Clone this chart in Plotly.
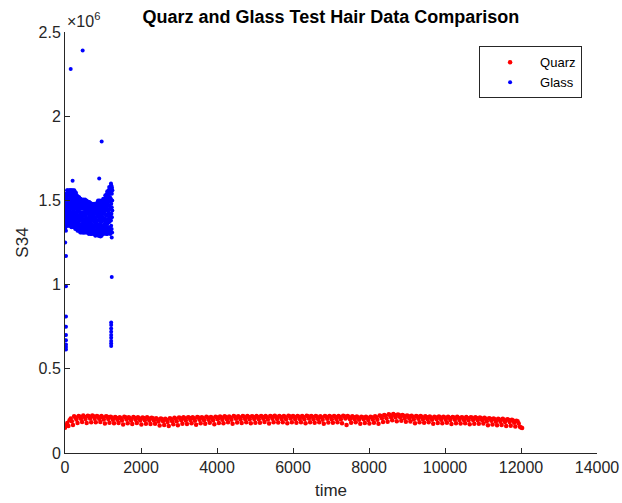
import numpy as np
import plotly.graph_objects as go

# ---- Quarz hair measurements: S34 (in thousands), sampled every 30 time units
quarz_step = 30
quarz_s34_k = [
    150, 165, 178, 160, 195, 205, 188, 166, 218, 213, 199, 178, 220, 216, 203, 184,
    222, 216, 202, 178, 221, 218, 205, 183, 223, 218, 204, 183, 220, 216, 203, 184,
    219, 213, 199, 175, 218, 215, 202, 180, 216, 211, 197, 176, 214, 210, 197, 178,
    213, 207, 193, 169, 215, 212, 199, 177, 212, 207, 193, 172, 214, 210, 197, 178,
    213, 207, 193, 169, 211, 208, 195, 173, 212, 207, 193, 172, 210, 206, 193, 174,
    207, 201, 187, 163, 205, 202, 189, 167, 203, 198, 184, 160, 206, 202, 189, 170,
    209, 203, 189, 165, 211, 208, 195, 173, 212, 207, 193, 172, 213, 209, 196, 177,
    212, 206, 192, 168, 214, 211, 198, 176, 213, 208, 194, 173, 215, 211, 198, 179,
    214, 208, 194, 170, 216, 213, 200, 178, 217, 212, 198, 177, 218, 214, 201, 182,
    217, 211, 197, 173, 219, 216, 203, 181, 218, 213, 199, 178, 219, 215, 202, 183,
    220, 214, 200, 176, 218, 215, 202, 180, 219, 214, 200, 179, 220, 216, 203, 184,
    219, 213, 199, 175, 220, 217, 204, 182, 221, 216, 202, 181, 219, 215, 202, 183,
    220, 214, 200, 176, 221, 218, 205, 183, 220, 215, 201, 180, 219, 215, 202, 183,
    220, 214, 200, 176, 221, 218, 205, 183, 220, 215, 201, 180, 219, 215, 202, 183,
    218, 212, 198, 174, 219, 216, 203, 181, 220, 215, 201, 180, 219, 215, 202, 183,
    220, 214, 200, 176, 221, 218, 205, 166, 219, 214, 200, 179, 218, 214, 201, 182,
    217, 211, 197, 173, 216, 213, 200, 178, 215, 210, 196, 175, 216, 212, 199, 180,
    218, 212, 198, 174, 222, 219, 206, 184, 226, 221, 207, 186, 230, 226, 213, 194,
    232, 226, 212, 188, 229, 226, 213, 191, 226, 221, 207, 186, 223, 219, 206, 187,
    221, 215, 201, 177, 220, 217, 204, 182, 219, 214, 200, 179, 218, 214, 201, 182,
    217, 211, 197, 173, 216, 213, 200, 178, 217, 212, 198, 177, 215, 211, 198, 179,
    216, 210, 196, 172, 214, 211, 198, 176, 215, 210, 196, 175, 213, 209, 196, 177,
    214, 208, 194, 170, 212, 209, 196, 174, 213, 208, 194, 173, 211, 207, 194, 175,
    209, 203, 189, 165, 207, 204, 191, 169, 205, 200, 186, 165, 203, 199, 186, 167,
    204, 198, 184, 160, 200, 197, 184, 162, 198, 193, 179, 158, 192, 188, 175, 156,
    152, 148,
]

# ---- Glass hair measurements: S34 (in thousands), sampled every 2.5 time units
glass_step = 2.5
glass_s34_k = [
    1420, 1330, 1500, 1360, 1540, 1450, 1340, 1480, 1390, 1520, 1320, 1440, 1370, 1510, 1410, 1350, 1470, 1530, 1380, 1460,
    1450, 1560, 1370, 1510, 1400, 1540, 1360, 1480, 1430, 1560, 1390, 1500, 1350, 1460, 1530, 1410, 1550, 1380, 1490, 1420,
    1500, 1370, 1550, 1420, 1350, 1470, 1560, 1390, 1510, 1440, 1360, 1530, 1400, 1480, 1560, 1370, 1450, 1520, 1410, 1545,
    1380, 1530, 1460, 1350, 1560, 1410, 1490, 1340, 1540, 1430, 1370, 1510, 1470, 1560, 1400, 1350, 1520, 1450, 1390, 1500,
    1550, 1420, 1350, 1500, 1460, 1560, 1380, 1440, 1530, 1340, 1480, 1410, 1545, 1370, 1510, 1450, 1360, 1490, 1560, 1400,
    1430, 1340, 1520, 1470, 1380, 1550, 1410, 1500, 1330, 1540, 1450, 1390, 1530, 1360, 1480, 1420, 1545, 1370, 1460, 1510,
    1360, 1500, 1420, 1530, 1330, 1460, 1390, 1520, 1440, 1350, 1480, 1320, 1525, 1410, 1370, 1490, 1450, 1340, 1510, 1400,
    1470, 1330, 1510, 1390, 1440, 1320, 1520, 1400, 1360, 1490, 1430, 1340, 1515, 1380, 1460, 1350, 1500, 1410, 1325, 1480,
    1310, 1450, 1380, 1510, 1340, 1490, 1410, 1330, 1500, 1430, 1360, 1470, 1310, 1400, 1505, 1350, 1460, 1320, 1480, 1390,
    1480, 1320, 1420, 1500, 1350, 1450, 1310, 1390, 1495, 1340, 1460, 1370, 1505, 1310, 1430, 1490, 1360, 1410, 1330, 1470,
    1390, 1310, 1460, 1350, 1500, 1420, 1320, 1480, 1380, 1450, 1310, 1505, 1340, 1440, 1370, 1490, 1330, 1410, 1470, 1360,
    1330, 1490, 1400, 1310, 1460, 1370, 1500, 1340, 1430, 1480, 1310, 1450, 1380, 1495, 1350, 1420, 1320, 1470, 1390, 1440,
    1320, 1450, 1380, 1490, 1340, 1470, 1310, 1420, 1485, 1360, 1440, 1300, 1400, 1480, 1330, 1460, 1370, 1490, 1350, 1410,
    1440, 1330, 1475, 1390, 1310, 1460, 1350, 1485, 1410, 1320, 1470, 1380, 1300, 1430, 1480, 1340, 1450, 1360, 1480, 1400,
    1300, 1470, 1360, 1440, 1320, 1480, 1380, 1310, 1450, 1400, 1340, 1475, 1350, 1420, 1305, 1460, 1390, 1330, 1470, 1410,
    1340, 1475, 1300, 1420, 1460, 1330, 1390, 1480, 1310, 1440, 1370, 1450, 1320, 1400, 1475, 1350, 1430, 1295, 1465, 1380,
    1290, 1450, 1370, 1480, 1320, 1430, 1400, 1300, 1475, 1350, 1460, 1310, 1420, 1480, 1340, 1380, 1470, 1330, 1440, 1360,
    1410, 1310, 1490, 1360, 1440, 1300, 1470, 1380, 1500, 1330, 1420, 1290, 1460, 1350, 1480, 1320, 1400, 1450, 1340, 1390,
    1290, 1460, 1350, 1420, 1500, 1310, 1440, 1380, 1300, 1490, 1360, 1470, 1330, 1410, 1285, 1450, 1390, 1480, 1320, 1430,
    1370, 1300, 1450, 1330, 1500, 1410, 1290, 1470, 1350, 1430, 1310, 1490, 1390, 1460, 1320, 1440, 1380, 1495, 1340, 1420,
    1320, 1480, 1400, 1510, 1340, 1450, 1300, 1490, 1380, 1430, 1310, 1470, 1360, 1500, 1420, 1330, 1460, 1390, 1440, 1350,
    1310, 1500, 1420, 1350, 1530, 1390, 1460, 1320, 1520, 1440, 1370, 1490, 1300, 1410, 1510, 1340, 1480, 1380, 1450, 1525,
    1330, 1540, 1410, 1480, 1360, 1555, 1300, 1450, 1510, 1390, 1530, 1340, 1470, 1420, 1550, 1320, 1490, 1380, 1440, 1520,
    1340, 1560, 1430, 1500, 1370, 1580, 1310, 1470, 1540, 1400, 1570, 1330, 1450, 1520, 1380, 1555, 1300, 1490, 1410, 1575,
    1320, 1570, 1450, 1510, 1380, 1590, 1350, 1480, 1550, 1420, 1585, 1330, 1460, 1540, 1400, 1575, 1310, 1500, 1440, 1560,
]

# Isolated glass readings away from the main band
glass_extra_time = [5, 26, 26, 26, 26, 26, 26, 26, 26, 26, 150, 200, 465, 900, 965,
                    1210, 1230, 1230, 1215, 1215, 1215, 1215, 1215, 1215, 1215, 1215, 1215]
glass_extra_s34_k = [1250, 1170, 990, 810, 750, 700, 670, 645, 630, 615, 2280, 1617, 2390, 1630, 1850,
                     1600, 1280, 1045, 775, 760, 740, 720, 700, 685, 665, 650, 635]

x_ticks = [0, 2000, 4000, 6000, 8000, 10000, 12000, 14000]
x_tick_text = ["0", "2000", "4000", "6000", "8000", "10000", "12000", "14000"]
y_ticks = [0, 0.5e6, 1e6, 1.5e6, 2e6, 2.5e6]
y_tick_text = ["0", "0.5", "1", "1.5", "2", "2.5"]

quarz_time = np.arange(len(quarz_s34_k)) * quarz_step
quarz_s34 = np.array(quarz_s34_k) * 1e3

glass_time = np.concatenate([np.arange(len(glass_s34_k)) * glass_step, glass_extra_time])
glass_s34 = np.concatenate([np.array(glass_s34_k), np.array(glass_extra_s34_k)]) * 1e3

AXIS_COLOR = "#262626"
FONT = "Liberation Sans, Arial, Helvetica, sans-serif"

fig = go.Figure()
fig.add_trace(go.Scatter(
    x=quarz_time, y=quarz_s34, mode="markers", name="Quarz",
    marker=dict(color="#ff0000", size=4.5, line=dict(width=0)),
))
fig.add_trace(go.Scatter(
    x=glass_time, y=glass_s34, mode="markers", name="Glass",
    marker=dict(color="#0000ff", size=4, line=dict(width=0)),
))

fig.update_layout(
    width=622, height=503,
    margin=dict(l=65, r=25, t=32, b=50),
    paper_bgcolor="white", plot_bgcolor="white",
    font=dict(family=FONT, color=AXIS_COLOR, size=16),
    title=dict(text="<b>Quarz and Glass Test Hair Data Comparison</b>",
               x=0.532, xanchor="center", y=0.966, yanchor="middle",
               font=dict(family=FONT, size=18, color="black")),
    showlegend=True,
    legend=dict(x=0.972, y=0.966, xanchor="right", yanchor="top",
                bgcolor="white", bordercolor=AXIS_COLOR, borderwidth=1,
                font=dict(family=FONT, size=13, color="black"),
                itemwidth=50, tracegroupgap=0),
    xaxis=dict(range=[0, 14000], tickvals=x_ticks, ticktext=x_tick_text,
               ticks="inside", ticklen=5, tickcolor=AXIS_COLOR, showline=True,
               linecolor=AXIS_COLOR, linewidth=1, showgrid=False, zeroline=False,
               mirror=False, automargin=False,
               title=dict(text="time", font=dict(size=17), standoff=8),
               tickfont=dict(size=16)),
    yaxis=dict(range=[0, 2.5e6], tickvals=y_ticks, ticktext=y_tick_text,
               ticks="inside", ticklen=5, tickcolor=AXIS_COLOR, showline=True,
               linecolor=AXIS_COLOR, linewidth=1, showgrid=False, zeroline=False,
               mirror=False, automargin=False,
               title=dict(text="S34", font=dict(size=17), standoff=5),
               tickfont=dict(size=16)),
    annotations=[dict(text="\u00d710<sup>6</sup>", xref="paper", yref="paper",
                      x=0.0, y=1.0, xanchor="left", yanchor="bottom", showarrow=False,
                      font=dict(family=FONT, size=16, color=AXIS_COLOR))],
)

fig.write_html("out.html")
